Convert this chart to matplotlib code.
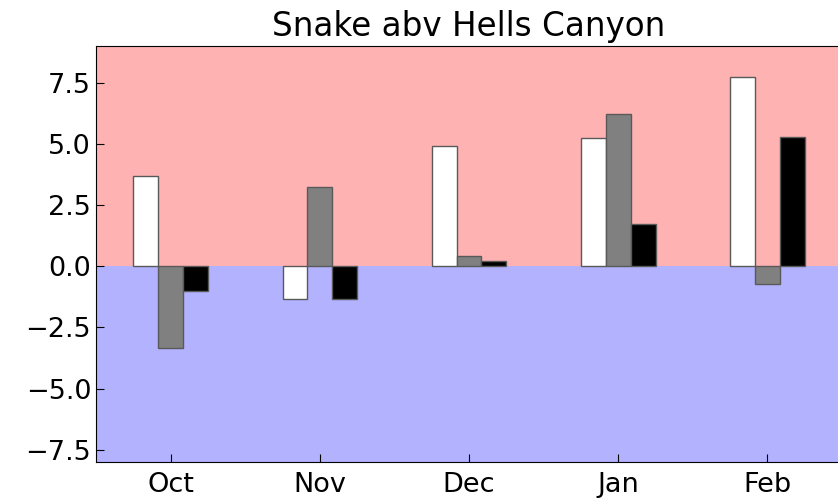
import numpy as np
import matplotlib.pyplot as plt

months = ["Oct", "Nov", "Dec", "Jan", "Feb"]
white_vals = [3.7, -1.33, 4.9, 5.25, 7.75]
gray_vals = [-3.35, 3.24, 0.41, 6.22, -0.72]
black_vals = [-1.02, -1.33, 0.2, 1.72, 5.3]

fig = plt.figure(figsize=(8.38, 4.99), dpi=100)
ax = fig.add_axes([0.1146, 0.0741, 0.8902, 0.8337])

# red above zero, blue below
ax.axhspan(0, 9, color="red", alpha=0.3, lw=0)
ax.axhspan(-8, 0, color="blue", alpha=0.3, lw=0)

x = np.arange(len(months))
w = 1 / 6
ax.bar(x - w, white_vals, w, color="white", edgecolor="0.35", linewidth=1)
ax.bar(x, gray_vals, w, color="gray", edgecolor="0.35", linewidth=1)
ax.bar(x + w, black_vals, w, color="black", edgecolor="0.35", linewidth=1)

ax.set_xlim(-0.5, 4.5)
ax.set_ylim(-8, 9)
ax.set_yticks([-7.5, -5.0, -2.5, 0.0, 2.5, 5.0, 7.5])
ax.set_xticks(x)
ax.set_xticklabels(months)
ax.tick_params(direction="in", labelsize=19.5, length=6)
ax.tick_params(axis="x", pad=7)
ax.set_title("Snake abv Hells Canyon", fontsize=23.5, pad=7)

fig.savefig("out.png")
